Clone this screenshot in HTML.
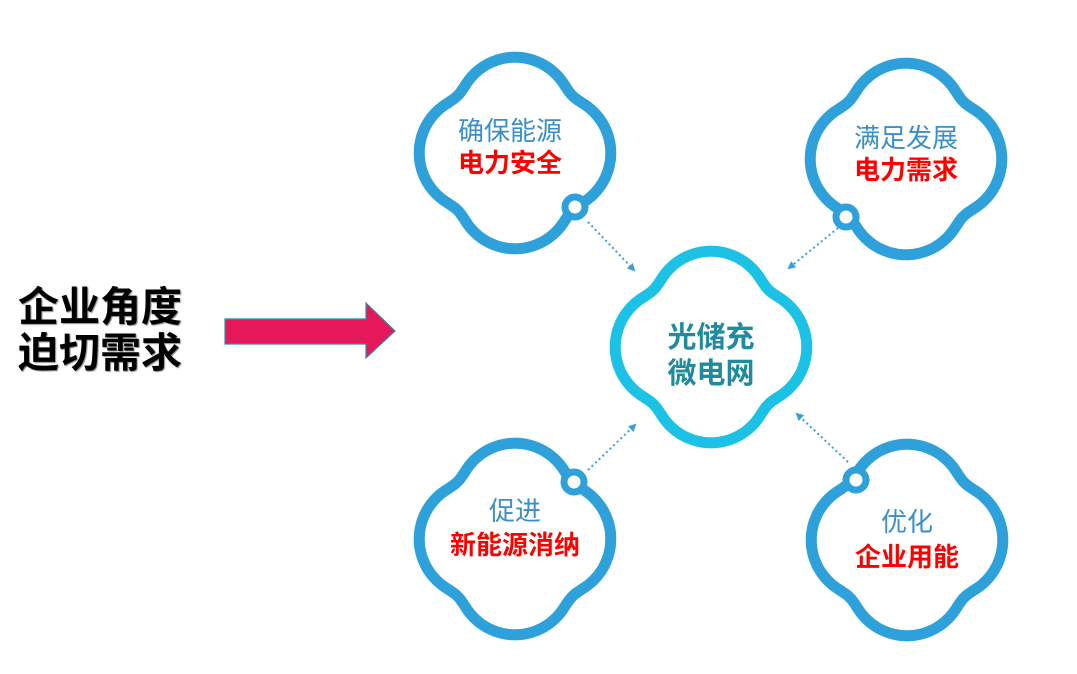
<!DOCTYPE html>
<html><head><meta charset="utf-8"><style>
html,body{margin:0;padding:0;background:#fff;}
body{width:1077px;height:674px;overflow:hidden;position:relative;font-family:"Liberation Sans","Noto Sans CJK SC",sans-serif;}
svg{position:absolute;left:0;top:0;}
.t{position:absolute;white-space:nowrap;text-align:center;}
</style></head><body>
<svg id="s" width="1077" height="674" viewBox="0 0 1077 674">
<defs>
<marker id="ah" markerWidth="8" markerHeight="8" refX="6" refY="4" orient="auto" markerUnits="userSpaceOnUse"><path d="M0,0 L8,4 L0,8 Z" fill="#3a9fd6"/></marker>
</defs>
<g id="clouds"></g>
<g stroke="#3a9fd6" stroke-width="2" stroke-dasharray="2,3" fill="none" marker-end="url(#ah)">
<line x1="588" y1="222" x2="634" y2="270"/>
<line x1="838" y1="228" x2="789" y2="268"/>
<line x1="588" y1="470" x2="635" y2="425"/>
<line x1="848" y1="462" x2="797" y2="414"/>
</g>
<g fill="#fff" stroke="#2ea0da" stroke-width="7">
<circle cx="575" cy="207" r="10"/>
<circle cx="846" cy="217" r="10"/>
<circle cx="574" cy="482" r="10"/>
<circle cx="856" cy="480" r="10"/>
</g>
<path d="M225,319 L366,319 L366,303 L395,331 L366,358 L366,344 L225,344 Z" fill="#e5195a" stroke="#2a8fa8" stroke-width="1.2"/>
</svg>
<script>
(function(){
var g=document.getElementById('clouds');
var D=38,RL=58,N=720;
var raw=[];
for(var i=0;i<N;i++){
 var t=i*2*Math.PI/N,ux=Math.cos(t),uy=Math.sin(t),best=0;
 for(var k=0;k<4;k++){
  var a=k*Math.PI/2,cx=D*Math.cos(a),cy=D*Math.sin(a);
  var b=ux*cx+uy*cy,c=cx*cx+cy*cy-RL*RL;
  var r=b+Math.sqrt(b*b-c);
  if(r>best)best=r;
 }
 raw.push(best);
}
var W=24,sm=[];
for(var i=0;i<N;i++){var s=0,ws=0;for(var j=-W;j<=W;j++){var w=1-Math.abs(j)/(W+1);s+=raw[(i+j+N)%N]*w;ws+=w;}sm.push(s/ws);}
function cloud(cx,cy,col,sw){
 var d='';
 for(var i=0;i<=N;i++){
  var t=i*2*Math.PI/N,r=sm[i%N];
  d+=(i?'L':'M')+(cx+r*Math.cos(t)).toFixed(1)+','+(cy+r*Math.sin(t)).toFixed(1);
 }
 var p=document.createElementNS('http://www.w3.org/2000/svg','path');
 p.setAttribute('d',d+'Z');p.setAttribute('fill','#fff');p.setAttribute('stroke',col);p.setAttribute('stroke-width',sw);
 g.appendChild(p);
}
cloud(515,153,'#2ea0da',11);
cloud(906,159,'#2ea0da',11);
cloud(515,539,'#2ea0da',11);
cloud(907,540,'#2ea0da',11);
cloud(711,347,'#1cc1e6',11);
})();
</script>
<div class="t" style="left:18px;top:284px;font-size:41px;font-weight:bold;line-height:46px;color:#000;text-align:left;text-shadow:1px 1px 1px #888;">企业角度<br>迫切需求</div>

<div class="t" style="left:410px;top:115px;width:200px;font-size:26px;line-height:32px;color:#3a8fc8;">确保能源<br><b style="color:#f00;">电力安全</b></div>
<div class="t" style="left:806px;top:122px;width:200px;font-size:26px;line-height:32px;color:#3a8fc8;">满足发展<br><b style="color:#f00;">电力需求</b></div>
<div class="t" style="left:415px;top:494px;width:200px;font-size:26px;line-height:34px;color:#3a8fc8;">促进<br><b style="color:#f00;">新能源消纳</b></div>
<div class="t" style="left:807px;top:505px;width:200px;font-size:26px;line-height:35px;color:#3a8fc8;">优化<br><b style="color:#f00;">企业用能</b></div>
<div class="t" style="left:611px;top:320px;width:200px;font-size:29px;font-weight:bold;line-height:36px;color:#1f8aa0;">光储充<br>微电网</div>
</body></html>
